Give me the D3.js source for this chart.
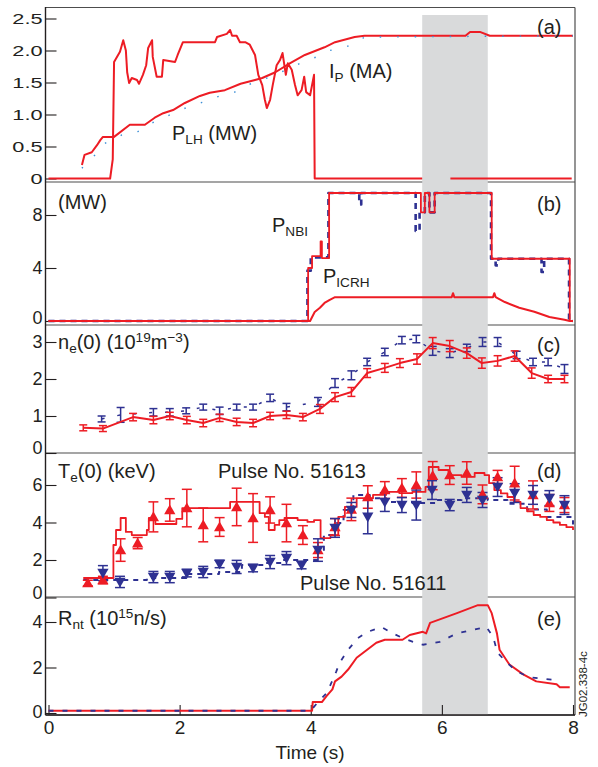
<!DOCTYPE html>
<html>
<head>
<meta charset="utf-8">
<script src="https://cdn.jsdelivr.net/npm/d3@7"></script>
<style>
body { margin: 0; background: #fff; }
text { font-family: "Liberation Sans", Arial, Helvetica, sans-serif; fill: #231f20; }
</style>
</head>
<body>
<script>
// ---- data (time in s, value) ----
// (a) plasma current and lower hybrid power
const ip51613 = [[0.51,0.21],[0.55,0.37],[0.66,0.41],[0.74,0.52],[0.79,0.6],[0.83,0.65],[1.0,0.65],[1.24,0.84],[1.47,0.84],[1.62,0.95],[1.75,1.02],[1.9,1.07],[2.08,1.18],[2.31,1.29],[2.46,1.34],[2.69,1.38],[2.93,1.48],[3.15,1.54],[3.26,1.57],[3.46,1.66],[3.68,1.8],[3.91,1.93],[4.21,2.05],[4.37,2.13],[4.67,2.21],[4.82,2.23],[6.36,2.23],[6.43,2.29],[6.58,2.29],[6.73,2.23],[8.0,2.23]];
const ip51611 = [[0.51,0.16],[0.63,0.32],[0.79,0.41],[0.86,0.55],[1.12,0.68],[1.33,0.71],[1.52,0.84],[1.75,0.95],[1.96,1.04],[2.19,1.15],[2.39,1.2],[2.61,1.29],[2.84,1.35],[3.0,1.45],[3.26,1.54],[3.46,1.62],[3.88,1.82],[4.09,1.9],[4.29,2.0],[4.52,2.05],[4.71,2.13],[4.82,2.21],[8.0,2.23]];
const plh51613 = [[0,0],[0.94,0],[0.98,0.3],[1.0,1.82],[1.09,1.98],[1.14,2.16],[1.18,2.0],[1.2,1.66],[1.23,1.49],[1.27,1.57],[1.35,1.54],[1.38,1.48],[1.44,1.62],[1.49,1.77],[1.52,2.04],[1.58,2.16],[1.59,1.9],[1.65,1.59],[1.73,1.59],[1.75,1.85],[1.93,1.82],[1.97,1.93],[2.05,2.13],[2.54,2.13],[2.57,2.21],[2.72,2.26],[2.77,2.32],[2.8,2.23],[2.87,2.23],[2.92,2.13],[3.0,2.13],[3.07,2.09],[3.15,1.93],[3.2,1.62],[3.26,1.46],[3.3,1.23],[3.33,1.1],[3.38,1.23],[3.42,1.46],[3.48,1.77],[3.53,1.85],[3.57,1.96],[3.62,1.62],[3.65,1.8],[3.71,1.7],[3.76,1.46],[3.8,1.3],[3.86,1.38],[3.9,1.59],[3.93,1.35],[3.99,1.3],[4.05,1.62],[4.06,0],[5.7,0],[5.72,null],[6.13,0],[7.98,0]];

// (b) NBI and ICRH power (MW)
const nbi51613 = [[0,0],[3.96,4.0],[4.02,4.9],[4.15,6.0],[4.17,4.75],[4.28,9.66],[5.68,8.2],[5.74,9.66],[5.81,8.2],[5.89,9.66],[6.76,4.7],[7.95,0],[8.0,0]];
const nbi51611 = [[0,0],[3.95,3.8],[4.0,4.8],[4.27,9.66],[4.74,8.8],[4.77,9.66],[5.6,6.8],[5.66,8.2],[5.74,9.66],[5.81,8.2],[5.89,9.66],[6.75,4.7],[6.82,4.2],[6.86,4.7],[7.52,3.7],[7.56,4.7],[7.94,0],[8.0,0]];
const icrh51613 = [[0,0],[3.99,0],[4.06,0.68],[4.14,1.0],[4.21,1.36],[4.29,1.6],[4.37,1.8],[6.15,1.8],[6.17,2.1],[6.19,1.8],[6.78,1.8],[6.8,2.1],[6.82,1.8],[6.96,1.43],[7.18,1.0],[7.41,0.7],[7.64,0.3],[7.87,0.1],[7.95,0]];

// (c) central density, [t, value, error]
const ne51613 = [[0.53,0.68,0.08],[0.83,0.66,0.08],[1.29,0.97,0.1],[1.6,0.89,0.1],[1.85,1.0,0.1],[2.11,0.89,0.1],[2.36,0.81,0.1],[2.61,0.95,0.1],[2.87,0.84,0.1],[3.12,0.81,0.1],[3.38,1.0,0.1],[3.63,1.03,0.1],[3.88,0.97,0.1],[4.14,1.19,0.12],[4.37,1.51,0.12],[4.62,1.65,0.12],[4.86,2.16,0.12],[5.13,2.3,0.12],[5.36,2.43,0.12],[5.62,2.54,0.14],[5.86,2.97,0.15],[6.12,2.89,0.15],[6.38,2.7,0.14],[6.61,2.43,0.14],[6.85,2.49,0.14],[7.11,2.62,0.14],[7.37,2.16,0.14],[7.62,2.0,0.1],[7.87,2.0,0.1]];
const ne51611 = [[0.81,0.92,0.08],[1.1,1.03,0.2],[1.6,1.1,0.1],[1.85,1.1,0.1],[2.1,1.14,0.08],[2.36,1.24,0.08],[2.61,1.14,0.1],[2.87,1.24,0.08],[3.12,1.24,0.08],[3.38,1.49,0.1],[3.63,1.24,0.1],[4.11,1.38,0.12],[4.37,1.89,0.12],[4.62,2.1,0.12],[4.86,2.46,0.1],[5.13,2.73,0.1],[5.39,3.05,0.1],[5.61,3.08,0.1],[5.86,2.76,0.12],[6.12,2.7,0.12],[6.38,2.84,0.1],[6.62,3.0,0.12],[6.85,3.0,0.12],[7.14,2.65,0.1],[7.39,2.46,0.1],[7.62,2.46,0.1],[7.87,2.27,0.12]];

// (d) central electron temperature (keV)
const teEce51613 = [[0.53,1.04],[0.99,2.8],[1.03,3.6],[1.1,4.24],[1.18,3.5],[1.27,3.33],[1.5,3.6],[1.53,4.24],[1.63,3.92],[1.95,4.19],[2.04,4.77],[2.77,5.1],[3.22,4.5],[3.3,4.3],[3.36,3.6],[3.45,3.87],[3.52,4.13],[3.6,4.24],[3.8,4.13],[3.95,4.03],[4.05,4.13],[4.15,3.17],[4.3,3.33],[4.42,4.3],[4.52,4.83],[4.7,5.3],[4.95,5.47],[5.15,5.63],[5.35,5.57],[5.55,5.63],[5.75,5.9],[5.8,6.96],[5.95,6.8],[6.1,6.53],[6.3,6.43],[6.5,6.64],[6.65,6.53],[6.72,6.1],[6.8,5.73],[6.9,5.55],[7.0,5.36],[7.1,5.1],[7.2,4.77],[7.3,4.6],[7.4,4.4],[7.5,4.3],[7.6,4.13],[7.7,4.0],[7.8,3.87],[7.9,3.75],[8.0,3.6]];
const teEce51611 = [[0.53,0.93],[1.0,0.93],[1.5,1.04],[2.1,1.25],[2.6,1.36],[2.95,1.73],[3.3,1.84],[3.55,2.0],[4.1,2.53],[4.2,3.33],[4.35,3.97],[4.5,4.67],[4.65,5.47],[4.9,5.3],[5.15,5.09],[5.55,5.04],[5.9,5.2],[6.3,5.3],[6.7,5.2],[7.0,5.0],[7.3,4.7],[7.6,4.3],[8.0,3.9]];
const teTs51613 = [[0.6,0.77,0.15],[0.83,0.93,0.2],[1.1,2.53,0.6],[1.36,2.9,0.3],[1.6,4.3,0.8],[1.85,4.67,0.6],[2.11,4.77,1.0],[2.36,3.87,0.9],[2.61,3.76,0.5],[2.87,4.83,1.0],[3.12,4.24,1.3],[3.38,4.67,0.7],[3.63,3.97,1.0],[3.88,3.33,0.5],[4.11,2.53,0.4],[4.37,3.76,0.45],[4.62,4.7,0.6],[4.87,5.36,0.6],[5.13,5.73,0.45],[5.39,5.84,0.5],[5.61,6.0,0.7],[5.86,6.5,0.75],[6.12,6.53,0.5],[6.38,6.64,0.6],[6.62,5.5,0.5],[6.85,6.43,0.35],[7.11,6.1,0.9],[7.39,5.47,0.75],[7.64,5.04,0.45],[7.87,4.93,0.4]];
const teTs51611 = [[0.83,1.3,0.4],[1.09,0.83,0.3],[1.6,1.09,0.3],[1.85,1.09,0.3],[2.11,1.3,0.2],[2.36,1.36,0.3],[2.61,1.79,0.2],[2.87,1.63,0.35],[3.12,1.57,0.2],[3.38,1.89,0.35],[3.63,2.1,0.35],[3.86,1.73,0.2],[4.11,2.53,0.6],[4.37,3.71,0.5],[4.62,4.67,0.4],[4.87,4.3,0.9],[5.13,5.09,0.5],[5.39,4.93,0.4],[5.61,4.93,0.8],[5.85,5.73,0.5],[6.12,4.93,0.3],[6.38,5.47,0.4],[6.62,5.2,0.4],[6.85,5.89,0.5],[7.11,5.57,0.5],[7.39,5.47,0.5],[7.64,5.3,0.4],[7.87,4.93,0.5]];

// (e) neutron rate (1e15 n/s)
const rnt51613 = [[0,0.1],[4.02,0.1],[4.03,0.48],[4.17,0.48],[4.24,0.74],[4.33,1.04],[4.37,1.39],[4.47,1.6],[4.57,1.91],[4.7,2.43],[4.86,2.78],[5.0,3.09],[5.13,3.22],[5.4,3.22],[5.51,3.43],[5.71,3.57],[5.76,3.5],[5.82,3.96],[6.02,4.17],[6.23,4.39],[6.43,4.61],[6.55,4.74],[6.7,4.74],[6.76,4.39],[6.84,3.5],[6.88,2.78],[7.03,2.13],[7.24,1.7],[7.44,1.39],[7.75,1.26],[7.8,1.13],[7.95,1.13]];
const rnt51611 = [[0,0.1],[4.0,0.1],[4.1,0.45],[4.25,0.9],[4.39,1.83],[4.44,2.2],[4.57,2.78],[4.72,3.3],[4.87,3.57],[5.08,3.78],[5.25,3.5],[5.4,3.3],[5.56,3.13],[5.71,3.0],[5.97,3.13],[6.23,3.5],[6.47,3.65],[6.68,3.78],[6.78,3.35],[6.85,2.65],[6.99,2.22],[7.14,1.83],[7.34,1.57],[7.8,1.43]];

const timeTicks = [0, 2, 4, 6, 8];
const band = [5.7, 6.7]; // shaded time window

// ---- layout ----
const width = 598, height = 767;
const left = 45.5, right = 575;
const red = "#ed1c24", navy = "#2e3192", lightBlue = "#3d8fd6", ink = "#231f20";

const svg = d3.select("body").append("svg")
    .attr("width", width)
    .attr("height", height);

const x = d3.scaleLinear().domain([0, 8]).range([48.5, 573]);

const panels = [
    { top: 7.5, bottom: 182, y: d3.scaleLinear().domain([0, 2.5]).range([178.5, 18.5]), ticks: [0, 0.5, 1, 1.5, 2, 2.5], fmt: d => d === 0 ? "0" : d3.format(".1f")(d), zeroShift: 0 },
    { top: 182, bottom: 325, y: d3.scaleLinear().domain([0, 8]).range([321, 215]), ticks: [0, 4, 8], fmt: d => d, zeroShift: -3 },
    { top: 325, bottom: 453, y: d3.scaleLinear().domain([0, 3]).range([453, 342]), ticks: [0, 1, 2, 3], fmt: d => d, zeroShift: -5 },
    { top: 453, bottom: 597, y: d3.scaleLinear().domain([0, 6]).range([597.5, 485]), ticks: [0, 2, 4, 6], fmt: d => d, zeroShift: -5 },
    { top: 597, bottom: 715, y: d3.scaleLinear().domain([0, 4]).range([713, 622]), ticks: [0, 2, 4], fmt: d => d, zeroShift: -1 }
];
const [pa, pb, pc, pd, pe] = panels;

// frame
svg.append("line").attr("x1", left).attr("x2", right).attr("y1", 7.5).attr("y2", 7.5).attr("stroke", "#4d4d4d").attr("stroke-width", 1.2);
panels.forEach(p => {
    svg.append("line").attr("x1", left).attr("x2", right).attr("y1", p.bottom).attr("y2", p.bottom)
        .attr("stroke", "#4d4d4d").attr("stroke-width", 1.2);
});
svg.append("line").attr("x1", right).attr("x2", right).attr("y1", 7.5).attr("y2", 715).attr("stroke", "#4d4d4d").attr("stroke-width", 1.2);

// shaded window
svg.append("rect")
    .attr("x", x(band[0])).attr("width", x(band[1]) - x(band[0]))
    .attr("y", 15).attr("height", 700)
    .attr("fill", "#d9dadb");

// left axes
panels.forEach((p, i) => {
    const g = svg.append("g").attr("transform", `translate(${left},0)`)
        .call(d3.axisLeft(p.y).tickValues(p.ticks).tickFormat(p.fmt).tickSize(-11).tickPadding(i === 0 ? 2 : 3));
    g.select(".domain").remove();
    g.attr("font-family", null).attr("font-size", null);
    g.selectAll(".tick line").attr("stroke", ink).attr("stroke-width", 1.1);
    g.selectAll(".tick text").style("font-size", i === 0 ? "15px" : "18px");
    g.selectAll(".tick").filter(d => d === 0).select("text").attr("y", p.zeroShift);
    if (i === 0) g.selectAll(".tick text").attr("transform", "scale(1.45,1)");
});
svg.append("line").attr("x1", left).attr("x2", left).attr("y1", 7).attr("y2", 715).attr("stroke", ink).attr("stroke-width", 1.4);

// bottom axis
const gx = svg.append("g").attr("transform", "translate(0,715)")
    .call(d3.axisBottom(x).tickValues(timeTicks).tickSize(-10).tickPadding(6));
gx.select(".domain").remove();
gx.attr("font-family", null).attr("font-size", null);
gx.selectAll(".tick line").attr("stroke", ink).attr("stroke-width", 1.1);
gx.selectAll(".tick text").style("font-size", "19px");
svg.append("line").attr("x1", left).attr("x2", right).attr("y1", 715).attr("y2", 715).attr("stroke", ink).attr("stroke-width", 1.4);

// ---- helpers ----
function trace(p, data, color, opts = {}) {
    const gen = d3.line()
        .defined(d => d[1] != null)
        .x(d => x(d[0]))
        .y(d => p.y(d[1]))
        .curve(opts.step ? d3.curveStepAfter : d3.curveLinear);
    svg.append("path")
        .attr("d", gen(data))
        .attr("fill", "none")
        .attr("stroke", color)
        .attr("stroke-width", opts.w || 2)
        .attr("stroke-dasharray", opts.dash || null)
        .attr("stroke-linejoin", "round");
}

function errorBars(p, data, color, cap) {
    const g = svg.append("g").attr("stroke", color).attr("stroke-width", 1.5);
    data.forEach(d => {
        const cx = x(d[0]), y1 = p.y(d[1] - d[2]), y2 = p.y(d[1] + d[2]);
        g.append("line").attr("x1", cx).attr("x2", cx).attr("y1", y1).attr("y2", y2);
        g.append("line").attr("x1", cx - cap).attr("x2", cx + cap).attr("y1", y1).attr("y2", y1);
        g.append("line").attr("x1", cx - cap).attr("x2", cx + cap).attr("y1", y2).attr("y2", y2);
    });
}

function triangles(p, data, color, down) {
    const sym = d3.symbol(d3.symbolTriangle).size(55);
    svg.append("g").selectAll("path").data(data).join("path")
        .attr("d", sym)
        .attr("transform", d => `translate(${x(d[0])},${p.y(d[1]) + (down ? -1 : 1)})${down ? " rotate(180)" : ""}`)
        .attr("fill", color);
}

function label(px, py, parts, size) {
    const t = svg.append("text").attr("x", px).attr("y", py).style("font-size", size + "px");
    let prev = 0;
    parts.forEach(part => {
        const off = part.off || 0;
        t.append("tspan")
            .attr("dy", off - prev)
            .style("font-size", (off ? size * 0.68 : size) + "px")
            .text(part.t);
        prev = off;
    });
    return t;
}

// ---- (a) ----
trace(pa, plh51613, red);
trace(pa, ip51613, red);
trace(pa, ip51611, lightBlue, { w: 1.4, dash: "1.5,16" });

// ---- (b) ----
trace(pb, nbi51611, navy, { step: true, w: 2.6, dash: "6,5" });
trace(pb, icrh51613, red);
trace(pb, nbi51613, red, { step: true, w: 1.8 });

// ---- (c) ----
errorBars(pc, ne51611, navy, 4);
trace(pc, ne51611, navy, { w: 1.5, dash: "3,13" });
trace(pc, ne51613, red);
errorBars(pc, ne51613, red, 4);

// ---- (d) ----
trace(pd, teEce51611, navy, { step: true, w: 2, dash: "5,5" });
trace(pd, teEce51613, red, { step: true, w: 1.8 });
errorBars(pd, teTs51613, red, 5);
errorBars(pd, teTs51611, navy, 5);
triangles(pd, teTs51613, red, false);
triangles(pd, teTs51611, navy, true);

// ---- (e) ----
trace(pe, rnt51613, red);
trace(pe, rnt51611, navy, { w: 1.8, dash: "5,9" });

// ---- labels ----
const fs = 20;
label(329, 78, [{ t: "I" }, { t: "P", off: 4 }, { t: " (MA)" }], fs);
label(172, 140, [{ t: "P" }, { t: "LH", off: 4 }, { t: " (MW)" }], fs);
label(58, 209, [{ t: "(MW)" }], fs);
label(272, 232, [{ t: "P" }, { t: "NBI", off: 4 }], fs);
label(323, 283, [{ t: "P" }, { t: "ICRH", off: 4 }], fs);
label(58, 349, [{ t: "n" }, { t: "e", off: 4 }, { t: "(0) (10" }, { t: "19", off: -7 }, { t: "m" }, { t: "\u22123", off: -7 }, { t: ")" }], fs);
label(58, 478, [{ t: "T" }, { t: "e", off: 4 }, { t: "(0) (keV)" }], fs);
label(218, 478, [{ t: "Pulse No. 51613" }], fs);
label(300, 590, [{ t: "Pulse No. 51611" }], fs);
label(58, 625, [{ t: "R" }, { t: "nt", off: 4 }, { t: " (10" }, { t: "15", off: -7 }, { t: "n/s)" }], fs);

[["(a)", 34], ["(b)", 211], ["(c)", 352], ["(d)", 478], ["(e)", 626]].forEach(([s, py]) => {
    label(537, py, [{ t: s }], fs);
});

svg.append("text")
    .attr("x", 310).attr("y", 759)
    .attr("text-anchor", "middle")
    .style("font-size", "19px")
    .text("Time (s)");

svg.append("text")
    .attr("transform", "translate(587,717) rotate(-90)")
    .style("font-size", "11.5px")
    .text("JG02.338-4c");
</script>
</body>
</html>
